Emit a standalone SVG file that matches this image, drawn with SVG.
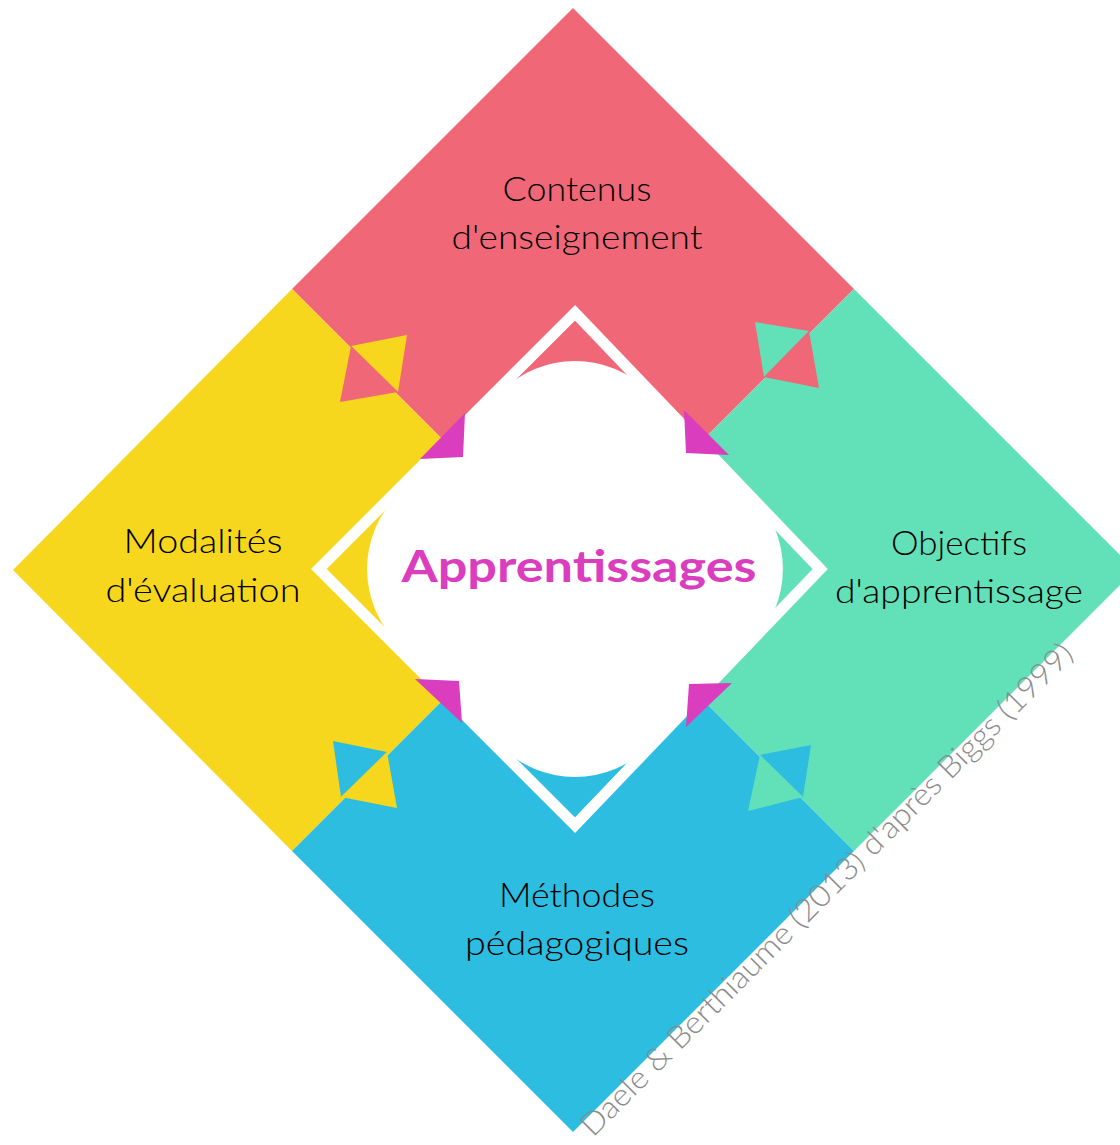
<svg xmlns="http://www.w3.org/2000/svg" width="1120" height="1145" viewBox="0 0 1120 1145">
  <style>
    .lbl { font-family: Lato, "Open Sans", "Liberation Sans", sans-serif; font-size: 34px; font-weight: 300; fill: #000000; text-anchor: middle; }
    .red { fill: #F06877; }
    .yel { fill: #F7D71D; }
    .grn { fill: #62E0B8; }
    .blu { fill: #2DBDE0; }
    .mag { fill: #DA3DBE; }
  </style>
  <rect x="0" y="0" width="1120" height="1145" fill="#ffffff"/>

  <g id="contenus">
    <polygon class="red" points="573,8 854,289 573,570 292,289"/>
    <text class="lbl" x="577" y="201" textLength="149" lengthAdjust="spacingAndGlyphs">Contenus</text>
    <text class="lbl" x="577" y="249" textLength="251" lengthAdjust="spacingAndGlyphs">d'enseignement</text>
  </g>
  <g id="modalites">
    <polygon class="yel" points="292,289 573,570 292,851 13,570"/>
    <text class="lbl" x="203" y="553" textLength="159" lengthAdjust="spacingAndGlyphs">Modalités</text>
    <text class="lbl" x="203" y="602" textLength="195" lengthAdjust="spacingAndGlyphs">d'évaluation</text>
  </g>
  <g id="objectifs">
    <polygon class="grn" points="854,289 1135,570 854,851 573,570"/>
    <text class="lbl" x="959" y="555" textLength="136" lengthAdjust="spacingAndGlyphs">Objectifs</text>
    <text class="lbl" x="959" y="603" textLength="248" lengthAdjust="spacingAndGlyphs">d'apprentissage</text>
  </g>
  <g id="methodes">
    <polygon class="blu" points="573,570 854,851 573,1132 292,851"/>
    <text class="lbl" x="577" y="907" textLength="156" lengthAdjust="spacingAndGlyphs">Méthodes</text>
    <text class="lbl" x="577" y="955" textLength="224" lengthAdjust="spacingAndGlyphs">pédagogiques</text>
  </g>

  <g id="connectors">
    <polygon class="yel" points="351,346 407,335 398,392"/>
    <polygon class="red" points="351,346 398,392 340,402"/>
    <polygon class="grn" points="755,322 809,331 764,377"/>
    <polygon class="red" points="809,331 819,388 764,377"/>
    <polygon class="blu" points="333,741 387,752 341,797"/>
    <polygon class="yel" points="387,752 397,808 341,797"/>
    <polygon class="blu" points="760,755 811,745 803,797"/>
    <polygon class="grn" points="760,755 803,797 748,811"/>
  </g>

  <g id="apprentissages">
    <path fill="#ffffff" d="M500.8,391.8 A105,105 0 0 1 649.2,391.8 L752.2,494.8 A105,105 0 0 1 752.2,643.2 L649.2,746.2 A105,105 0 0 1 500.8,746.2 L397.8,643.2 A105,105 0 0 1 397.8,494.8 Z"/>
    <polygon fill="none" stroke="#ffffff" stroke-width="11" stroke-linejoin="miter" stroke-miterlimit="10" points="575,312.8 820.2,569 575,825.2 318.8,569"/>
    <polygon class="mag" points="465,413 463,457 420,459"/>
    <polygon class="mag" points="684,410 686,453 729,455"/>
    <polygon class="mag" points="415,679 459,681 462,723"/>
    <polygon class="mag" points="732,683 689,684 686,727"/>
    <text x="579" y="582" font-family="Lato, 'Open Sans', 'Liberation Sans', sans-serif" font-size="44" font-weight="bold" fill="#DA3DBE" text-anchor="middle" textLength="355" lengthAdjust="spacingAndGlyphs">Apprentissages</text>
  </g>

  <text transform="translate(593,1138) rotate(-45)" x="0" y="0" font-family="Lato, 'Open Sans', 'Liberation Sans', sans-serif" font-size="31" font-weight="300" fill="#8C8C8C" textLength="682" lengthAdjust="spacingAndGlyphs">Daele &amp; Berthiaume (2013) d'après Biggs (1999)</text>
</svg>
